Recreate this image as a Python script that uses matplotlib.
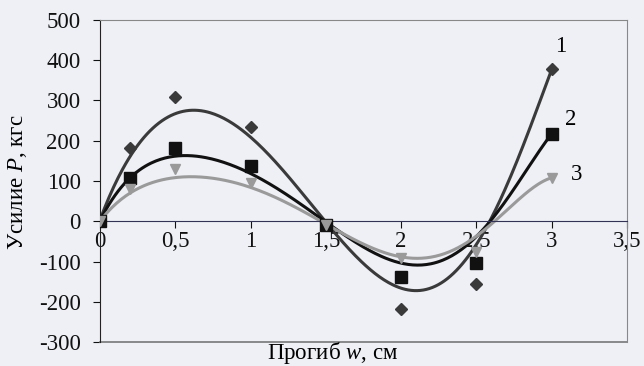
import numpy as np
import matplotlib.pyplot as plt

w = [0, 0.2, 0.5, 1, 1.5, 2, 2.5, 3]
p1 = [0, 182, 308, 233, -10, -217, -157, 379]
p2 = [0, 108, 183, 137, -10, -139, -104, 217]
p3 = [0, 79, 129, 96, -10, -92, -77, 107]

# smooth (calculated) curves
wc = [0, 0.2, 0.5, 0.63, 1, 1.5, 2, 2.12, 2.5, 2.75, 3]
c1 = [0, 170, 262, 268, 221, -8, -167, -173, -50, 125, 379]
c2 = [0, 112, 157, 161, 125, -8, -100, -108, -42, 83, 217]
c3 = [0, 71, 107, 111, 85, -8, -87, -93, -37, 44, 108]

series_labels = ['1', '2', '3']
xticks = [0, 0.5, 1, 1.5, 2, 2.5, 3, 3.5]
xtick_labels = ['0', '0,5', '1', '1,5', '2', '2,5', '3', '3,5']
yticks = [-300, -200, -100, 0, 100, 200, 300, 400, 500]

plt.rcParams['font.family'] = 'Liberation Serif'
plt.rcParams['mathtext.fontset'] = 'custom'
plt.rcParams['mathtext.it'] = 'Liberation Serif:italic'
plt.rcParams['mathtext.rm'] = 'Liberation Serif'
plt.rcParams['axes.unicode_minus'] = False

bg = '#eef0f6'
fs = 16.5
fig = plt.figure(figsize=(6.44, 3.66), dpi=100, facecolor=bg)
ax = fig.add_axes([100/644, 1 - 342/366, 527/644, 322/366])
ax.set_facecolor(bg)

styles = [
    (p1, c1, '#3a3a3a', 'D', 6),
    (p2, c2, '#111111', 's', 8),
    (p3, c3, '#9a9a9a', 'v', 7),
]
xs = np.linspace(0, 3, 300)
for p, c, col, m, ms in styles:
    ax.plot(w, p, linestyle='none', marker=m, color=col, markersize=ms, zorder=3)
    coef = np.polyfit(wc, c, 6)
    ax.plot(xs, np.polyval(coef, xs), color=col, lw=2.2, zorder=2)

# curve labels
ax.text(3.02, 433, series_labels[0], fontsize=fs, va='center')
ax.text(3.09, 253, series_labels[1], fontsize=fs, va='center')
ax.text(3.13, 117, series_labels[2], fontsize=fs, va='center')

ax.set_xlim(0, 3.5)
ax.set_ylim(-300, 500)
ax.set_xticks(xticks)
ax.set_xticklabels(xtick_labels)
ax.set_yticks(yticks)

for s in ['top', 'right']:
    ax.spines[s].set_color('#888888')
ax.spines['left'].set_color('#222222')
ax.spines['bottom'].set_position(('data', 0))
ax.spines['bottom'].set_color('#333355')
ax.axhline(-300, color='#777777', lw=1.2, clip_on=False)

ax.tick_params(axis='both', direction='out', length=5, labelsize=fs, colors='#111111')
ax.tick_params(axis='y', pad=9)
ax.tick_params(axis='x', pad=2)

fig.text(18/644, 1 - 182/366, 'Усилие $P$, кгс', rotation=90, ha='center', va='center', fontsize=fs)
fig.text(333/644, 1 - 353/366, 'Прогиб $w$, см', ha='center', va='center', fontsize=fs)

fig.savefig('out.png', dpi=100, facecolor=bg)
